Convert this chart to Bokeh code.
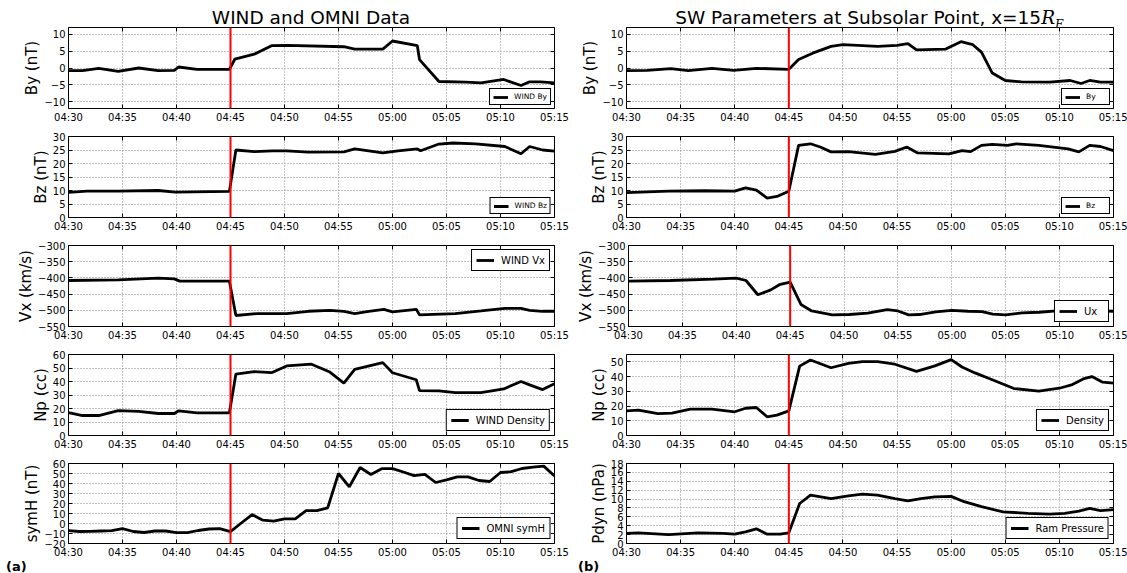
from bokeh.plotting import figure
from bokeh.layouts import column, row
from bokeh.models import Range1d, FixedTicker, Span, LinearAxis, Div
from bokeh.embed import file_html
from bokeh.resources import INLINE

# ---------------- data ----------------
TIME_TICKS = [0, 5, 10, 15, 20, 25, 30, 35, 40, 45]          # minutes after 04:30
TIME_LABELS = ["04:30", "04:35", "04:40", "04:45", "04:50",
               "04:55", "05:00", "05:05", "05:10", "05:15"]
EVENT_TIME = 15                                              # 04:45

# left column: WIND and OMNI
wind_by_t = [0, 1.3, 2.8, 4.6, 6.5, 8.3, 9.8, 10.2, 11.9, 14.9, 15.4, 17.2, 18.8, 20.2,
             25.5, 26.5, 29.1, 30.0, 32.3, 32.5, 34.3, 36.8, 38.2, 40.3, 41.9, 42.7, 43.7, 45]
wind_by = [-0.8, -0.8, -0.1, -1.0, 0.0, -0.8, -0.7, 0.3, -0.4, -0.4, 2.6, 4.1, 6.6, 6.7,
           6.3, 5.6, 5.6, 8.0, 6.6, 2.5, -4.0, -4.2, -4.4, -3.4, -5.2, -4.1, -4.1, -4.4]

wind_bz_t = [0, 1.7, 4.6, 8.3, 9.9, 14.9, 15.5, 17.2, 18.9, 20.2, 22.2, 25.5, 26.5, 29.1,
             30.5, 32.3, 32.6, 34.3, 35.6, 37.7, 40.4, 41.9, 42.7, 43.9, 45]
wind_bz = [9.3, 9.8, 9.8, 10.0, 9.4, 9.7, 25.0, 24.4, 24.7, 24.7, 24.2, 24.3, 25.4, 23.9,
           24.7, 25.4, 24.7, 27.2, 27.6, 27.3, 26.3, 23.6, 26.3, 25.0, 24.6]

wind_vx_t = [0, 4.6, 8.3, 9.8, 10.3, 14.9, 15.5, 17.5, 20.2, 22.2, 24.2, 25.5, 26.5, 27.8,
             29.2, 30.0, 32.2, 32.5, 35.8, 38.2, 40.4, 41.9, 42.7, 43.9, 45]
wind_vx = [-408, -406, -401, -403, -410, -410, -516, -510, -510, -503, -500, -503, -510, -503,
           -497, -505, -497, -514, -510, -502, -494, -494, -500, -503, -503]

wind_np_t = [0, 1.3, 2.8, 4.6, 6.5, 8.3, 9.8, 10.2, 11.9, 14.9, 15.5, 17.2, 18.8, 20.2, 22.5,
             24.2, 25.5, 26.5, 29.1, 30.0, 32.2, 32.5, 34.3, 35.8, 38.2, 40.3, 41.9, 42.7, 43.9, 45]
wind_np = [17.0, 14.8, 14.8, 18.5, 17.8, 16.3, 16.3, 18.3, 16.8, 16.8, 45.5, 47.3, 46.5, 51.5, 52.8,
           47.0, 38.8, 49.0, 54.0, 46.5, 41.3, 33.3, 33.0, 31.8, 31.8, 34.5, 40.0, 37.5, 34.0, 38.3]

omni_symh_t = list(range(0, 46))
omni_symh = [-7.2, -8, -7.8, -7.5, -7.2, -5.2, -8, -9, -7.5, -7.5, -9.2, -9.2, -7, -5.5, -5.2,
             -8.2, 0.5, 8.9, 3.3, 2.3, 4.6, 4.6, 12.8, 12.8, 15.7, 50, 36.7, 56, 49, 54.8,
             54.8, 51.5, 47.9, 49.2, 41, 43.6, 46.6, 46.6, 43, 42, 51, 51.8, 55, 56.4, 57.4, 47.5]

# right column: SW parameters at subsolar point
sw_by_t = [0, 1.9, 4.1, 5.7, 7.9, 9.9, 12.0, 15, 15.9, 17.2, 18.9, 20.0, 23.2, 25.0, 26.0,
           26.8, 29.5, 30.9, 32.0, 32.8, 33.8, 35.0, 36.5, 39.1, 41.0, 42.0, 42.8, 43.8, 45]
sw_by = [-0.8, -0.7, -0.2, -0.8, -0.1, -0.7, -0.1, -0.4, 2.5, 4.4, 6.4, 6.9, 6.4, 6.7, 7.2,
         5.4, 5.6, 7.8, 6.9, 4.7, -1.5, -3.7, -4.1, -4.2, -3.7, -4.6, -3.7, -4.2, -4.2]

sw_bz_t = [0, 3.9, 7.2, 10.0, 11.0, 12.0, 13.0, 13.9, 15, 15.9, 17.0, 17.9, 18.9, 20.5, 23.0,
           24.8, 25.9, 26.9, 29.8, 31.0, 31.8, 32.8, 33.8, 35.2, 36.0, 38.1, 40.8, 41.8, 42.8, 43.8, 45]
sw_bz = [9.2, 9.8, 9.9, 9.8, 11.0, 10.1, 7.2, 7.8, 9.7, 26.7, 27.3, 26.1, 24.3, 24.4, 23.4,
         24.5, 26.1, 23.9, 23.6, 24.8, 24.4, 26.7, 27.1, 26.7, 27.3, 26.7, 25.4, 24.3, 26.7, 26.3, 24.8]

sw_ux_t = [0, 3.9, 7.9, 10.0, 10.9, 12.0, 13.2, 14.0, 15, 16.0, 17.0, 18.9, 20.5, 22.2, 24.0,
           25.0, 26.0, 27.0, 28.5, 30.0, 31.5, 32.8, 33.8, 35.0, 36.5, 38.1, 40.0, 42.5, 45]
sw_ux = [-410, -408, -404, -401, -408, -452, -437, -421, -413, -482, -502, -514, -513, -509, -498,
         -502, -514, -513, -505, -500, -503, -504, -512, -514, -508, -506, -501, -500, -503]

sw_np_t = [0, 1.1, 2.9, 4.2, 5.9, 7.9, 10.0, 11.0, 12.0, 13.0, 13.9, 15, 16.0, 17.0, 18.9, 20.5,
           21.8, 23.2, 24.8, 26.8, 28.5, 30.0, 31.0, 32.2, 33.8, 35.8, 38.1, 40.0, 41.2, 42.2,
           43.0, 44.0, 45]
sw_np = [16.7, 17.2, 14.9, 15.2, 17.9, 17.9, 16.1, 18.5, 19.0, 12.7, 13.8, 16.7, 47.1, 51.3, 46.0,
         48.9, 50.2, 50.2, 48.4, 43.5, 47.3, 51.5, 46.5, 42.5, 37.9, 31.9, 30.1, 32.1, 34.6, 38.4,
         40.0, 36.2, 35.5]

sw_pdyn_t = [0, 1.1, 3.9, 6.6, 8.9, 10.0, 11.0, 12.0, 13.0, 14.2, 15, 16.0, 17.0, 18.9, 20.5,
             21.8, 23.2, 24.8, 26.0, 27.2, 28.5, 30.0, 31.2, 32.8, 34.8, 37.1, 39.1, 40.5, 41.8,
             42.8, 43.8, 45]
sw_pdyn = [2.3, 2.4, 2.0, 2.4, 2.3, 2.1, 2.6, 3.3, 2.1, 2.1, 2.4, 9.0, 10.9, 10.1, 10.7,
           11.1, 10.9, 10.1, 9.6, 10.1, 10.5, 10.6, 9.4, 8.3, 7.1, 6.8, 6.6, 6.8, 7.3,
           7.9, 7.4, 7.6]

BY_TICKS = [-10, -5, 0, 5, 10]
BZ_TICKS = [0, 5, 10, 15, 20, 25, 30]
VX_TICKS = [-550, -500, -450, -400, -350, -300]
NP_TICKS_L = [0, 10, 20, 30, 40, 50, 60]
NP_TICKS_R = [0, 10, 20, 30, 40, 50]
SYMH_TICKS = [-20, -10, 0, 10, 20, 30, 40, 50, 60]
PDYN_TICKS = [0, 2, 4, 6, 8, 10, 12, 14, 16, 18]

LEFT_TITLE = "WIND and OMNI Data"
RIGHT_TITLE = "SW Parameters at Subsolar Point, x=15"
PANEL_TAGS = ["(a)", "(b)"]

# (ylabel, t, values, legend, yrange, yticks, legend location, small legend?)
left_panels = [
    ("By (nT)", wind_by_t, wind_by, "WIND By", (-12, 12), BY_TICKS, "bottom_right", True),
    ("Bz (nT)", wind_bz_t, wind_bz, "WIND Bz", (0, 30), BZ_TICKS, "bottom_right", True),
    ("Vx (km/s)", wind_vx_t, wind_vx, "WIND Vx", (-550, -300), VX_TICKS, "top_right", False),
    ("Np (cc)", wind_np_t, wind_np, "WIND Density", (0, 60), NP_TICKS_L, "bottom_right", False),
    ("symH (nT)", omni_symh_t, omni_symh, "OMNI symH", (-20, 60), SYMH_TICKS, "bottom_right", False),
]
right_panels = [
    ("By (nT)", sw_by_t, sw_by, "By", (-12, 12), BY_TICKS, "bottom_right", True),
    ("Bz (nT)", sw_bz_t, sw_bz, "Bz", (0, 30), BZ_TICKS, "bottom_right", True),
    ("Vx (km/s)", sw_ux_t, sw_ux, "Ux", (-550, -300), VX_TICKS, "bottom_right", False),
    ("Np (cc)", sw_np_t, sw_np, "Density", (0, 55), NP_TICKS_R, "bottom_right", False),
    ("Pdyn (nPa)", sw_pdyn_t, sw_pdyn, "Ram Pressure", (0, 18), PDYN_TICKS, "bottom_right", False),
]

# ---------------- layout ----------------
FONT = "DejaVu Sans"
TITLE_H = 27
TAG_H = 13
LEFT_W, RIGHT_W = 574, 553
LEFT_MB = (68, 20)
RIGHT_MB = (52, 14)
FRAME_H = 81
ROW_TOP = [0, 8, 8, 8, 8]
ROW_BOT = [20, 20, 20, 20, 16]
TAG_X = [6, 4]        # px from the left of each column


def fmt(v):
    return str(v).replace("-", "\u2212")


def style_axis(ax):
    ax.major_tick_in = 4
    ax.major_tick_out = 0
    ax.minor_tick_line_color = None
    ax.axis_line_color = None
    ax.major_tick_line_color = "black"
    ax.major_label_text_font = FONT
    ax.major_label_text_font_size = "10px"
    ax.major_label_text_color = "black"
    ax.major_label_standoff = 3


def make_panel(spec, i, left):
    ylabel, t, v, leg, yr, yt, loc, small = spec
    w = LEFT_W if left else RIGHT_W
    mbl, mbr = LEFT_MB if left else RIGHT_MB
    p = figure(width=w, height=ROW_TOP[i] + FRAME_H + ROW_BOT[i],
               output_backend="svg", toolbar_location=None,
               x_range=Range1d(0, 45), y_range=Range1d(*yr),
               min_border_left=mbl, min_border_right=mbr,
               min_border_top=ROW_TOP[i], min_border_bottom=ROW_BOT[i])
    p.outline_line_color = "black"
    p.outline_line_width = 1
    p.outline_line_alpha = 1
    p.background_fill_color = "white"
    p.border_fill_color = "white"

    p.xaxis.ticker = FixedTicker(ticks=TIME_TICKS)
    p.xaxis.major_label_overrides = {tk: lb for tk, lb in zip(TIME_TICKS, TIME_LABELS)}
    p.yaxis.ticker = FixedTicker(ticks=yt)
    p.yaxis.major_label_overrides = {tk: fmt(tk) for tk in yt}
    for ax in p.xaxis + p.yaxis:
        style_axis(ax)
    p.yaxis.axis_label = ylabel
    p.yaxis.axis_label_text_font = FONT
    p.yaxis.axis_label_text_font_size = "15px"
    p.yaxis.axis_label_text_font_style = "normal"
    p.yaxis.axis_label_text_color = "black"
    p.yaxis.axis_label_standoff = 0

    # tick marks on the top and right sides (no labels)
    rax = LinearAxis(ticker=FixedTicker(ticks=yt),
                     major_label_overrides={tk: "" for tk in yt})
    tax = LinearAxis(ticker=FixedTicker(ticks=TIME_TICKS),
                     major_label_overrides={tk: "" for tk in TIME_TICKS})
    for ax in (rax, tax):
        style_axis(ax)
        ax.major_label_text_font_size = "0px"
        ax.major_label_standoff = 0
    p.add_layout(rax, "right")
    p.add_layout(tax, "above")

    p.xgrid.grid_line_color = "#888888"
    p.xgrid.grid_line_dash = "1 2"
    p.ygrid.grid_line_color = "#888888"
    p.ygrid.grid_line_dash = "1 2"

    p.line(t, v, line_color="black", line_width=2.8, legend_label=leg)
    p.add_layout(Span(location=EVENT_TIME, dimension="height",
                      line_color="red", line_width=2))

    lg = p.legend[0]
    lg.location = loc
    lg.border_line_color = "black"
    lg.border_line_width = 1
    lg.border_line_alpha = 1
    lg.background_fill_color = "white"
    lg.background_fill_alpha = 1
    lg.label_text_font = FONT
    lg.label_text_color = "black"
    if small:
        lg.label_text_font_size = "7.5px"
        lg.glyph_width = 15
        lg.glyph_height = 8
        lg.label_height = 8
        lg.label_standoff = 6
        lg.padding = 3
        lg.margin = 3
    else:
        lg.label_text_font_size = "10px"
        lg.glyph_width = 18
        lg.glyph_height = 12
        lg.label_height = 12
        lg.label_standoff = 7
        lg.padding = 4
        lg.margin = 4
    return p


left_figs = [make_panel(s, i, True) for i, s in enumerate(left_panels)]
right_figs = [make_panel(s, i, False) for i, s in enumerate(right_panels)]

SPAN_STYLE = ("position:absolute;top:9px;transform:translateX(-50%);white-space:nowrap;"
              "font-family:'DejaVu Sans';font-size:18.5px;line-height:1;color:black;")
left_center = LEFT_MB[0] + (LEFT_W - LEFT_MB[0] - LEFT_MB[1]) / 2
right_center = RIGHT_MB[0] + (RIGHT_W - RIGHT_MB[0] - RIGHT_MB[1]) / 2
title_left = Div(
    text=(f'<div style="position:relative;width:{LEFT_W}px;height:{TITLE_H}px;">'
          f'<span style="{SPAN_STYLE}left:{left_center}px;">{LEFT_TITLE}</span></div>'),
    width=LEFT_W, height=TITLE_H, margin=(0, 0, 0, 0))
title_right = Div(
    text=(f'<div style="position:relative;width:{RIGHT_W}px;height:{TITLE_H}px;">'
          f'<span style="{SPAN_STYLE}left:{right_center}px;">{RIGHT_TITLE}'
          f'<i style="font-family:\'DejaVu Serif\';">R</i>'
          f'<sub style="font-family:\'DejaVu Serif\';font-style:italic;font-size:12px;">E</sub>'
          f'</span></div>'),
    width=RIGHT_W, height=TITLE_H, margin=(0, 0, 0, 0))

TAG_STYLE = ("position:absolute;top:0px;white-space:nowrap;font-family:'DejaVu Sans';"
             "font-size:13px;font-weight:bold;line-height:13px;color:black;")
tag_divs = []
for k, (w, tag) in enumerate(zip((LEFT_W, RIGHT_W), PANEL_TAGS)):
    tag_divs.append(Div(
        text=(f'<div style="position:relative;width:{w}px;height:{TAG_H}px;">'
              f'<span style="{TAG_STYLE}left:{TAG_X[k]}px;">{tag}</span></div>'),
        width=w, height=TAG_H, margin=(0, 0, 0, 0)))

rows = [row(title_left, title_right)]
for lf, rf in zip(left_figs, right_figs):
    rows.append(row(lf, rf))
rows.append(row(*tag_divs))
layout = column(*rows)

open("out.html", "w").write(file_html(layout, INLINE))
